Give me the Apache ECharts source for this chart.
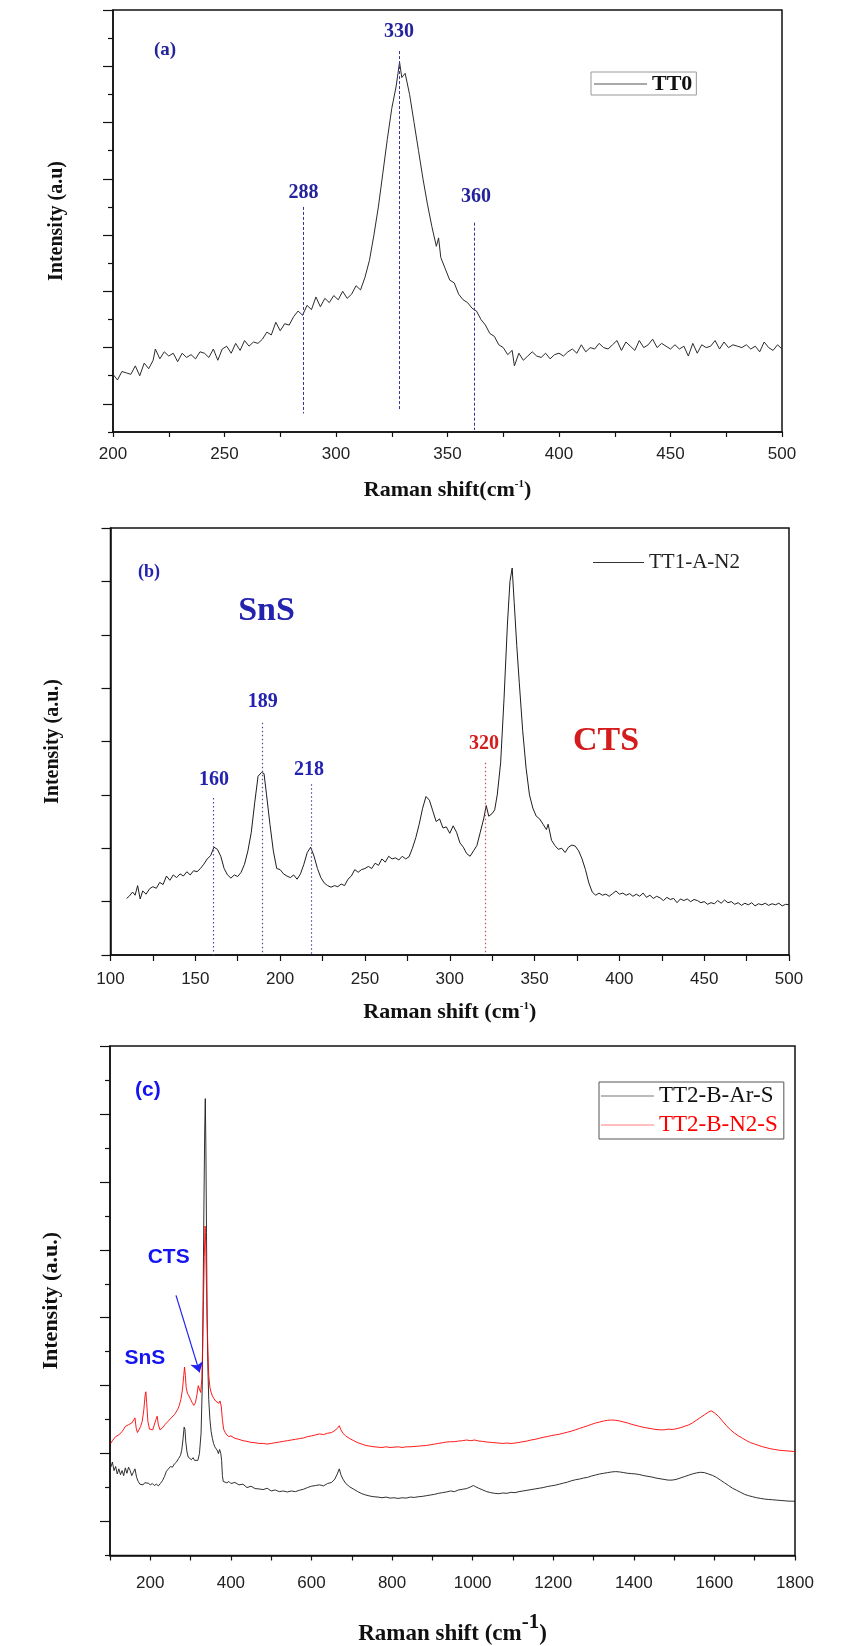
<!DOCTYPE html>
<html><head><meta charset="utf-8">
<script src="https://cdn.jsdelivr.net/npm/echarts@6/dist/echarts.min.js"></script>
<style>html,body{margin:0;padding:0;background:#fff}#c{width:841px;height:1646px}</style>
</head><body><div id="c"></div>
<script>
// ---------- Panel (a) ----------
const aTT0 = [[200,2.05],[202,1.85],[204,2.15],[206,2.1],[208,2.05],[210,2.35],[212,2.0],[214,2.45],[216,2.25],[218,2.55],[219,2.95],[221,2.6],[223,2.85],[225,2.7],[227,2.8],[229,2.5],[231,2.8],[233,2.65],[235,2.75],[237,2.6],[239,2.85],[241,2.8],[243,2.65],[245,2.95],[247,2.55],[249,2.95],[251,3.05],[253,2.8],[255,3.15],[257,2.9],[259,3.25],[261,3.05],[263,3.2],[265,3.15],[267,3.3],[269,3.55],[271,3.45],[273,3.9],[275,3.6],[277,3.85],[279,3.8],[281,4.1],[283,4.3],[285,4.15],[287,4.5],[289,4.35],[291,4.8],[293,4.45],[295,4.75],[297,4.6],[299,4.85],[301,4.7],[303,5.0],[305,4.75],[307,4.9],[309,5.2],[311,5.05],[313,5.5],[315,6.1],[317,7.0],[319,8.0],[321,9.2],[323,10.4],[325,11.5],[327,12.3],[328.5,13.15],[329.5,12.6],[331,12.75],[333,12.0],[335,11.0],[337,10.0],[339,9.0],[341,8.1],[343,7.3],[345,6.6],[346,6.9],[347,6.2],[349,5.8],[351,5.4],[353,5.3],[355,4.9],[357,4.7],[359,4.6],[361,4.4],[363,4.3],[365,4.0],[367,3.8],[369,3.5],[371,3.4],[373,3.1],[375,3.0],[377,2.75],[379,2.9],[380,2.35],[382,2.8],[384,2.55],[386,2.7],[388,2.85],[390,2.7],[392,2.65],[394,2.8],[396,2.6],[398,2.75],[400,2.8],[402,2.7],[404,2.85],[406,2.95],[408,2.8],[410,3.1],[412,2.85],[414,3.0],[416,2.95],[418,3.15],[420,3.0],[422,2.95],[424,3.1],[426,3.25],[428,2.9],[430,3.2],[432,3.05],[434,2.9],[436,3.25],[438,3.0],[440,3.1],[442,3.3],[444,3.0],[446,3.15],[448,3.05],[450,2.95],[452,3.1],[454,2.95],[456,3.05],[458,2.7],[460,3.15],[462,2.8],[464,3.1],[466,3.0],[468,3.05],[470,3.25],[472,2.95],[474,3.2],[476,3.0],[478,3.1],[480,3.05],[482,3.0],[484,3.1],[486,2.95],[488,3.05],[490,2.85],[492,3.2],[494,3.0],[496,2.9],[498,3.1],[500,2.95]];
const aPeakLines = [[285.2, 8.0, 0.66], [328.3, 13.54, 0.78], [361.8, 7.44, 0.07]];
const aPeakLabels = [['288', 285.4, 8.51], ['330', 328.2, 14.23], ['360', 362.8, 8.37]];
const aYMajorTicks = [1,3,5,7,9,11,13,15];
const aYMinorTicks = [0,2,4,6,8,10,12,14];

// ---------- Panel (b) ----------
const bTT1 = [[109.5,1.06],[111,1.1],[113,1.18],[114.5,1.12],[116,1.3],[117.5,1.05],[119,1.2],[121,1.14],[123,1.24],[125,1.28],[127,1.25],[129,1.36],[131,1.32],[133,1.48],[135,1.4],[137,1.5],[139,1.45],[141,1.52],[143,1.48],[145,1.56],[147,1.5],[149,1.58],[151,1.56],[153,1.62],[155,1.7],[157,1.8],[159,1.86],[161,2.02],[163,1.98],[165,1.85],[167,1.62],[169,1.5],[171,1.44],[173,1.5],[175,1.47],[177,1.55],[179,1.7],[181,1.95],[183,2.3],[185,2.85],[187,3.35],[189,3.42],[190.5,3.4],[192,3.0],[194,2.45],[196,1.95],[198,1.62],[200,1.6],[202,1.52],[204,1.48],[206,1.45],[208,1.5],[210,1.42],[212,1.52],[214,1.7],[216,1.92],[218,2.02],[220,1.85],[222,1.62],[224,1.45],[226,1.35],[228,1.3],[230,1.27],[232,1.3],[234,1.28],[236,1.33],[238,1.3],[240,1.42],[242,1.48],[244,1.6],[246,1.55],[248,1.6],[250,1.62],[252,1.66],[254,1.62],[256,1.72],[258,1.68],[260,1.8],[262,1.74],[264,1.85],[266,1.8],[268,1.82],[270,1.78],[272,1.85],[274,1.8],[276,1.84],[278,2.0],[280,2.2],[282,2.45],[284,2.75],[286,2.97],[288,2.9],[290,2.7],[292,2.5],[294,2.55],[296,2.38],[298,2.4],[300,2.28],[302,2.42],[304,2.3],[306,2.1],[308,2.02],[310,1.9],[312,1.85],[314,1.95],[316,2.05],[318,2.3],[320,2.55],[321.5,2.8],[323,2.6],[325,2.65],[326.5,2.72],[328,3.0],[330,3.6],[332,4.8],[334,6.2],[335.5,7.0],[336.8,7.25],[338,6.6],[339.5,5.8],[341,5.1],[343,4.2],[345,3.5],[347,3.0],[349,2.75],[351,2.6],[353,2.55],[355,2.45],[357,2.35],[358,2.45],[360,2.15],[362,2.05],[364,1.98],[366,2.0],[368,1.92],[370,2.02],[372,2.06],[374,2.04],[376,1.95],[378,1.8],[380,1.6],[382,1.35],[384,1.18],[386,1.12],[388,1.16],[390,1.12],[392,1.14],[394,1.1],[396,1.15],[398,1.2],[400,1.14],[402,1.16],[404,1.12],[406,1.15],[408,1.1],[410,1.14],[412,1.1],[414,1.16],[416,1.08],[418,1.12],[420,1.06],[422,1.1],[424,1.07],[426,1.02],[428,1.08],[430,1.04],[432,1.06],[434,0.98],[436,1.05],[438,1.02],[440,1.05],[442,1.0],[444,1.04],[446,1.02],[448,0.98],[450,1.0],[452,0.95],[454,0.98],[456,0.96],[458,1.02],[460,0.97],[462,1.03],[464,0.98],[466,1.0],[468,0.95],[470,0.98],[472,0.93],[474,0.97],[476,0.94],[478,0.98],[480,0.92],[482,0.96],[484,0.94],[486,0.97],[488,0.93],[490,0.96],[492,0.94],[494,0.97],[496,0.92],[498,0.95],[500,0.94]];
const bBlueLines = [[160.7, 2.94, 0], [189.2, 4.35, 0], [218.3, 3.2, 0]];
const bRedLines = [[321.1, 3.6, 0]];
const bBlueLabels = [['160', 161, 3.28], ['189', 189.8, 4.74], ['218', 217, 3.47]];
const bRedLabels = [['320', 320.2, 3.95]];

// ---------- Panel (c) ----------
const cArS = [[102,2.6],[106,2.75],[110,2.5],[114,2.62],[118,2.4],[122,2.55],[126,2.38],[130,2.5],[134,2.35],[138,2.58],[142,2.42],[146,2.6],[150,2.5],[154,2.35],[158,2.45],[162,2.55],[166,2.3],[170,2.18],[174,2.1],[178,2.15],[182,2.08],[186,2.14],[190,2.1],[195,2.13],[200,2.08],[205,2.12],[210,2.06],[215,2.1],[220,2.05],[225,2.12],[230,2.2],[235,2.32],[240,2.48],[245,2.55],[250,2.62],[255,2.6],[260,2.7],[265,2.75],[270,2.85],[275,2.95],[278,3.1],[281,3.4],[284,3.78],[286,3.72],[288,3.35],[291,3.05],[294,2.9],[298,2.86],[302,2.82],[306,2.88],[310,2.8],[314,2.85],[318,2.8],[322,3.0],[326,3.6],[329,5.0],[331,7.5],[333,10.2],[335,12.5],[336.5,13.45],[338,12.0],[339.5,9.5],[341,7.0],[343,5.5],[345,4.6],[348,4.0],[351,3.65],[354,3.45],[357,3.3],[360,3.2],[363,3.25],[366,3.1],[369,3.0],[372,3.12],[375,3.0],[377,2.8],[379,2.35],[381,2.18],[385,2.2],[390,2.14],[395,2.18],[400,2.12],[410,2.15],[420,2.08],[430,2.1],[440,2.0],[450,2.04],[460,1.97],[470,1.96],[480,1.94],[490,1.98],[500,1.9],[510,1.93],[520,1.88],[530,1.9],[540,1.87],[550,1.9],[560,1.88],[570,1.92],[580,1.95],[590,2.0],[600,2.04],[610,2.06],[620,2.08],[630,2.05],[640,2.12],[650,2.15],[658,2.25],[664,2.4],[669,2.55],[673,2.38],[678,2.25],[685,2.12],[695,2.02],[705,1.95],[715,1.88],[725,1.82],[735,1.78],[745,1.75],[755,1.73],[765,1.72],[775,1.7],[785,1.72],[795,1.69],[805,1.7],[815,1.68],[825,1.7],[835,1.69],[845,1.72],[855,1.71],[865,1.73],[875,1.74],[885,1.76],[895,1.78],[905,1.8],[915,1.83],[925,1.85],[935,1.87],[945,1.9],[955,1.88],[965,1.93],[975,1.95],[985,1.97],[995,2.02],[1002,2.06],[1008,2.02],[1015,1.98],[1025,1.93],[1035,1.88],[1045,1.85],[1055,1.83],[1065,1.82],[1075,1.84],[1085,1.83],[1095,1.86],[1105,1.85],[1115,1.88],[1125,1.9],[1135,1.92],[1145,1.94],[1155,1.96],[1165,1.98],[1175,2.0],[1185,2.03],[1195,2.05],[1205,2.07],[1215,2.1],[1225,2.13],[1235,2.16],[1245,2.2],[1255,2.23],[1265,2.25],[1275,2.28],[1285,2.3],[1295,2.34],[1305,2.37],[1315,2.4],[1325,2.42],[1335,2.44],[1345,2.46],[1355,2.47],[1365,2.46],[1375,2.44],[1385,2.42],[1395,2.41],[1405,2.4],[1415,2.38],[1425,2.35],[1435,2.33],[1445,2.31],[1455,2.28],[1465,2.26],[1475,2.24],[1485,2.22],[1495,2.22],[1505,2.24],[1515,2.28],[1525,2.32],[1535,2.36],[1545,2.4],[1555,2.43],[1565,2.45],[1575,2.44],[1585,2.4],[1595,2.36],[1605,2.3],[1615,2.22],[1625,2.14],[1635,2.06],[1645,1.98],[1655,1.92],[1665,1.86],[1675,1.8],[1685,1.76],[1695,1.73],[1705,1.7],[1715,1.68],[1725,1.66],[1735,1.65],[1745,1.64],[1755,1.63],[1765,1.62],[1775,1.61],[1785,1.6],[1795,1.6],[1800,1.59]];
const cN2S = [[102,3.3],[106,3.38],[110,3.42],[114,3.5],[118,3.48],[122,3.55],[126,3.6],[130,3.65],[134,3.72],[138,3.8],[142,3.75],[146,3.85],[150,3.8],[154,3.9],[158,3.85],[162,4.05],[165,3.75],[168,3.62],[172,3.7],[176,3.8],[180,3.95],[184,4.3],[187,4.7],[189,4.82],[191,4.5],[194,3.95],[198,3.72],[202,3.68],[206,3.7],[210,3.75],[214,4.0],[217,4.1],[220,3.85],[224,3.7],[228,3.65],[232,3.78],[236,3.85],[240,3.9],[244,3.95],[248,3.98],[252,4.05],[256,4.1],[260,4.15],[264,4.2],[268,4.3],[272,4.42],[276,4.6],[280,4.9],[283,5.3],[285,5.55],[287,5.3],[289,4.95],[292,4.78],[296,4.7],[300,4.6],[304,4.5],[308,4.42],[312,4.5],[316,4.75],[319,5.0],[322,5.05],[325,4.8],[328,5.2],[330,6.2],[332,7.5],[334,8.8],[336,9.7],[337.5,9.2],[339,8.2],[341,7.0],[343,6.0],[345,5.3],[348,4.95],[351,4.8],[354,4.7],[358,4.62],[362,4.55],[366,4.5],[370,4.48],[373,4.55],[376,4.4],[379,4.0],[382,3.72],[386,3.62],[390,3.55],[395,3.5],[400,3.52],[410,3.45],[420,3.42],[430,3.38],[440,3.36],[450,3.33],[460,3.32],[470,3.3],[480,3.3],[490,3.28],[500,3.3],[510,3.32],[520,3.34],[530,3.36],[540,3.38],[550,3.4],[560,3.42],[570,3.44],[580,3.46],[590,3.5],[600,3.52],[610,3.55],[620,3.58],[630,3.56],[640,3.6],[650,3.62],[658,3.68],[664,3.74],[669,3.82],[673,3.7],[678,3.6],[685,3.52],[695,3.44],[705,3.38],[715,3.32],[725,3.28],[735,3.24],[745,3.22],[755,3.2],[765,3.19],[775,3.18],[785,3.2],[795,3.18],[805,3.19],[815,3.2],[825,3.18],[835,3.2],[845,3.2],[855,3.21],[865,3.22],[875,3.23],[885,3.24],[895,3.26],[905,3.28],[915,3.3],[925,3.32],[935,3.34],[945,3.35],[955,3.35],[965,3.37],[975,3.38],[985,3.4],[995,3.38],[1005,3.4],[1015,3.37],[1025,3.36],[1035,3.34],[1045,3.33],[1055,3.32],[1065,3.31],[1075,3.3],[1085,3.31],[1095,3.3],[1105,3.31],[1115,3.33],[1125,3.35],[1135,3.37],[1145,3.4],[1155,3.42],[1165,3.45],[1175,3.48],[1185,3.5],[1195,3.53],[1205,3.55],[1215,3.57],[1225,3.6],[1235,3.63],[1245,3.66],[1255,3.7],[1265,3.74],[1275,3.78],[1285,3.82],[1295,3.86],[1305,3.9],[1315,3.93],[1325,3.96],[1335,3.98],[1345,3.99],[1355,3.98],[1365,3.96],[1375,3.93],[1385,3.9],[1395,3.86],[1405,3.83],[1415,3.8],[1425,3.77],[1435,3.75],[1445,3.73],[1455,3.71],[1465,3.7],[1475,3.7],[1485,3.72],[1495,3.71],[1505,3.73],[1515,3.76],[1525,3.8],[1535,3.84],[1545,3.9],[1555,3.98],[1565,4.06],[1575,4.14],[1585,4.22],[1592,4.26],[1600,4.2],[1610,4.1],[1620,3.96],[1630,3.82],[1640,3.7],[1650,3.6],[1660,3.52],[1670,3.45],[1680,3.38],[1690,3.32],[1700,3.28],[1710,3.24],[1720,3.2],[1730,3.17],[1740,3.14],[1750,3.12],[1760,3.1],[1770,3.09],[1780,3.08],[1790,3.07],[1800,3.06]];
const cXLabelValues = [200,400,600,800,1000,1200,1400,1600,1800];
const cXTickValues = [100,200,300,400,500,600,700,800,900,1000,1100,1200,1300,1400,1500,1600,1700,1800];
const cYMajorTicks = [1,3,5,7,9,11,13,15];
const cYMinorTicks = [0,2,4,6,8,10,12,14];
const cArrow = [[263.8, 7.66], [322.4, 5.39]];

// ---------- styles ----------
const SERIF = "'Liberation Serif','Times New Roman',serif";
const SANS = "'Liberation Sans',Arial,sans-serif";
const AX = '#111';
const lineAx = {lineStyle:{color:AX, width:1.5}};
const tickStyle = {color:AX, width:1.2};
const plain = v => String(v);

function vLines(arr){ return arr.map(p => [{coord:[p[0], p[1]]}, {coord:[p[0], p[2]]}]); }
function txt(name, x, y, style){ return {name:name, coord:[x, y], label:Object.assign({show:true, position:'inside', formatter:'{b}'}, style)}; }
const markPointBase = {symbol:'rect', symbolSize:1, silent:true, itemStyle:{color:'rgba(0,0,0,0)'}, animation:false};

const blueA = '#23239c', blueB = '#2323b0', redB = '#d41c1c', blueC = '#1414f0';
const numA = {fontFamily:SERIF, fontWeight:'bold', fontSize:20, color:blueA};

function yPair(gi, max, major, minor, name, gap, nameSize){
  return [
    {gridIndex:gi, type:'value', position:'left', min:0, max:max, axisLine:Object.assign({show:true, onZero:false}, lineAx),
     axisTick:{show:true, customValues:major, length:10, lineStyle:tickStyle}, axisLabel:{show:false}, splitLine:{show:false},
     name:name, nameLocation:'middle', nameGap:gap, nameMoveOverlap:false,
     nameTextStyle:{fontFamily:SERIF, fontWeight:'bold', fontSize:nameSize, color:AX}},
    {gridIndex:gi, type:'value', position:'left', offset:0, min:0, max:max, axisLine:{show:false, onZero:false},
     axisTick:{show:true, customValues:minor, length:5, lineStyle:tickStyle}, axisLabel:{show:false}, splitLine:{show:false}}
  ];
}

const gridBase = {show:true, borderColor:AX, borderWidth:1.5, backgroundColor:'#fff', containLabel:false, outerBoundsMode:'none'};

const option = {
  animation:false,
  backgroundColor:'#fff',
  grid:[
    Object.assign({left:113, top:10, width:669, height:422}, gridBase),
    Object.assign({left:110.5, top:528, width:678.5, height:427}, gridBase),
    Object.assign({left:110, top:1046, width:685, height:509.5}, gridBase)
  ],
  xAxis:[
    {gridIndex:0, type:'value', min:200, max:500, interval:50, axisLine:Object.assign({onZero:false}, lineAx),
     axisTick:{show:true, length:5, lineStyle:tickStyle}, minorTick:{show:true, splitNumber:2, length:5, lineStyle:tickStyle},
     splitLine:{show:false}, minorSplitLine:{show:false},
     axisLabel:{color:'#222', fontSize:17, fontFamily:SANS, margin:14, showMinLabel:true, showMaxLabel:true, formatter:plain},
     name:'{t|Raman shift(cm}{s|-1}{t|)}', nameLocation:'middle', nameGap:47, nameMoveOverlap:false,
     nameTextStyle:{rich:{t:{fontFamily:SERIF, fontWeight:'bold', fontSize:22, color:AX, verticalAlign:'bottom'},
                          s:{fontFamily:SERIF, fontWeight:'bold', fontSize:11, color:AX, verticalAlign:'top'}}}},
    {gridIndex:1, type:'value', min:100, max:500, interval:50, axisLine:Object.assign({onZero:false}, lineAx),
     axisTick:{show:true, length:6, lineStyle:tickStyle}, minorTick:{show:true, splitNumber:2, length:6, lineStyle:tickStyle},
     splitLine:{show:false}, minorSplitLine:{show:false},
     axisLabel:{color:'#222', fontSize:17, fontFamily:SANS, margin:16, showMinLabel:true, showMaxLabel:true, formatter:plain},
     name:'{t|Raman shift (cm}{s|-1}{t|)}', nameLocation:'middle', nameGap:46, nameMoveOverlap:false,
     nameTextStyle:{rich:{t:{fontFamily:SERIF, fontWeight:'bold', fontSize:22, color:AX, verticalAlign:'bottom'},
                          s:{fontFamily:SERIF, fontWeight:'bold', fontSize:11, color:AX, verticalAlign:'top'}}}},
    {gridIndex:2, type:'value', min:100, max:1800, axisLine:Object.assign({onZero:false}, lineAx),
     axisTick:{show:true, length:5, customValues:cXTickValues, lineStyle:tickStyle},
     splitLine:{show:false},
     axisLabel:{color:'#222', fontSize:17, fontFamily:SANS, margin:19, customValues:cXLabelValues, formatter:plain},
     name:'{t|Raman shift (cm}{s|-1}{t|)}', nameLocation:'middle', nameGap:57, nameMoveOverlap:false,
     nameTextStyle:{rich:{t:{fontFamily:SERIF, fontWeight:'bold', fontSize:23, color:AX, verticalAlign:'bottom'},
                          s:{fontFamily:SERIF, fontWeight:'bold', fontSize:21, color:AX, verticalAlign:'bottom', padding:[0,0,12,0]}}}}
  ],
  yAxis:[].concat(
    yPair(0, 15, aYMajorTicks, aYMinorTicks, 'Intensity (a.u)', 46, 20),
    [{gridIndex:1, type:'value', position:'left', min:0, max:8, interval:1, axisLine:Object.assign({show:true, onZero:false}, lineAx),
      axisTick:{show:true, length:9, lineStyle:tickStyle}, axisLabel:{show:false}, splitLine:{show:false},
      name:'Intensity (a.u.)', nameLocation:'middle', nameGap:48, nameMoveOverlap:false,
      nameTextStyle:{fontFamily:SERIF, fontWeight:'bold', fontSize:20, color:AX}}],
    yPair(2, 15, cYMajorTicks, cYMinorTicks, 'Intensity (a.u.)', 48, 22)
  ),
  legend:[
    {data:['TT0'], left:591, top:72, orient:'horizontal', icon:'rect', itemWidth:53, itemHeight:1.2, padding:[1,4,0,3],
     borderColor:'#999', borderWidth:1, selectedMode:false,
     textStyle:{fontFamily:SERIF, fontWeight:'bold', fontSize:22, color:AX}},
    {data:['TT1-A-N2'], left:593, top:552, orient:'horizontal', icon:'rect', itemWidth:51, itemHeight:1.2, padding:0, selectedMode:false,
     textStyle:{fontFamily:SERIF, fontSize:21, color:'#222'}},
    {data:[{name:'TT2-B-Ar-S', textStyle:{color:'#111'}}, {name:'TT2-B-N2-S', textStyle:{color:'#ff0000'}}],
     left:599, top:1082, orient:'vertical', icon:'rect', itemWidth:53, itemHeight:1.2, itemGap:3, padding:[1,6,1,2],
     borderColor:'#555', borderWidth:1, selectedMode:false,
     textStyle:{fontFamily:SERIF, fontSize:23, lineHeight:26}}
  ],
  series:[
    {type:'line', name:'TT0', xAxisIndex:0, yAxisIndex:0, data:aTT0, symbol:'none', showSymbol:false,
     lineStyle:{color:'#2b2b2b', width:1}, itemStyle:{color:'#555'},
     markLine:{silent:true, symbol:'none', animation:false, label:{show:false},
       lineStyle:{color:'#35359a', type:[3,2], width:1}, data:vLines(aPeakLines)},
     markPoint:Object.assign({}, markPointBase, {data:[
       txt('(a)', 223.3, 13.58, {fontFamily:SERIF, fontWeight:'bold', fontSize:19, color:blueA})
     ].concat(aPeakLabels.map(p => txt(p[0], p[1], p[2], numA)))})},
    {type:'line', name:'TT1-A-N2', xAxisIndex:1, yAxisIndex:2, data:bTT1, symbol:'none', showSymbol:false,
     lineStyle:{color:'#1e1e1e', width:1}, itemStyle:{color:'#333'},
     markLine:{silent:true, symbol:'none', animation:false, label:{show:false},
       lineStyle:{color:'#4a4aa8', type:[1.5,2.5], width:1.2}, data:vLines(bBlueLines)},
     markPoint:Object.assign({}, markPointBase, {data:[
       txt('(b)', 122.7, 7.16, {fontFamily:SERIF, fontWeight:'bold', fontSize:18, color:blueB}),
       txt('SnS', 192.0, 6.44, {fontFamily:SERIF, fontWeight:'bold', fontSize:34, color:blueB}),
       txt('CTS', 392.1, 4.0, {fontFamily:SERIF, fontWeight:'bold', fontSize:34, color:redB})
     ].concat(bBlueLabels.map(p => txt(p[0], p[1], p[2], {fontFamily:SERIF, fontWeight:'bold', fontSize:20, color:blueB})),
              bRedLabels.map(p => txt(p[0], p[1], p[2], {fontFamily:SERIF, fontWeight:'bold', fontSize:20, color:redB})))})},
    {type:'line', name:'bRedMarks', xAxisIndex:1, yAxisIndex:2, data:[], symbol:'none',
     markLine:{silent:true, symbol:'none', animation:false, label:{show:false},
       lineStyle:{color:'#c05050', type:[1.5,2.5], width:1.2}, data:vLines(bRedLines)}},
    {type:'line', name:'TT2-B-Ar-S', xAxisIndex:2, yAxisIndex:3, data:cArS, symbol:'none', showSymbol:false,
     lineStyle:{color:'#1a1a1a', width:0.9}, itemStyle:{color:'#777'},
     markPoint:Object.assign({}, markPointBase, {data:[
       txt('(c)', 193.8, 13.69, {fontFamily:SANS, fontWeight:'bold', fontSize:21, color:blueC}),
       txt('CTS', 245.7, 8.78, {fontFamily:SANS, fontWeight:'bold', fontSize:21, color:blueC}),
       txt('SnS', 186.6, 5.8, {fontFamily:SANS, fontWeight:'bold', fontSize:21, color:blueC})
     ]})},
    {type:'line', name:'TT2-B-N2-S', xAxisIndex:2, yAxisIndex:3, data:cN2S, symbol:'none', showSymbol:false,
     lineStyle:{color:'#ff0000', width:0.9}, itemStyle:{color:'#ff8080'},
     markLine:{silent:true, symbol:['none','arrow'], symbolSize:10, animation:false, label:{show:false},
       lineStyle:{color:'#2020f0', type:'solid', width:1.2}, itemStyle:{color:'#2020f0'},
       data:[[{coord:cArrow[0], symbol:'none'}, {coord:cArrow[1], symbol:'arrow', symbolSize:10}]]}}
  ]
};
const chart = echarts.init(document.getElementById('c'), null, {renderer:'canvas'});
chart.setOption(option);
</script></body></html>
